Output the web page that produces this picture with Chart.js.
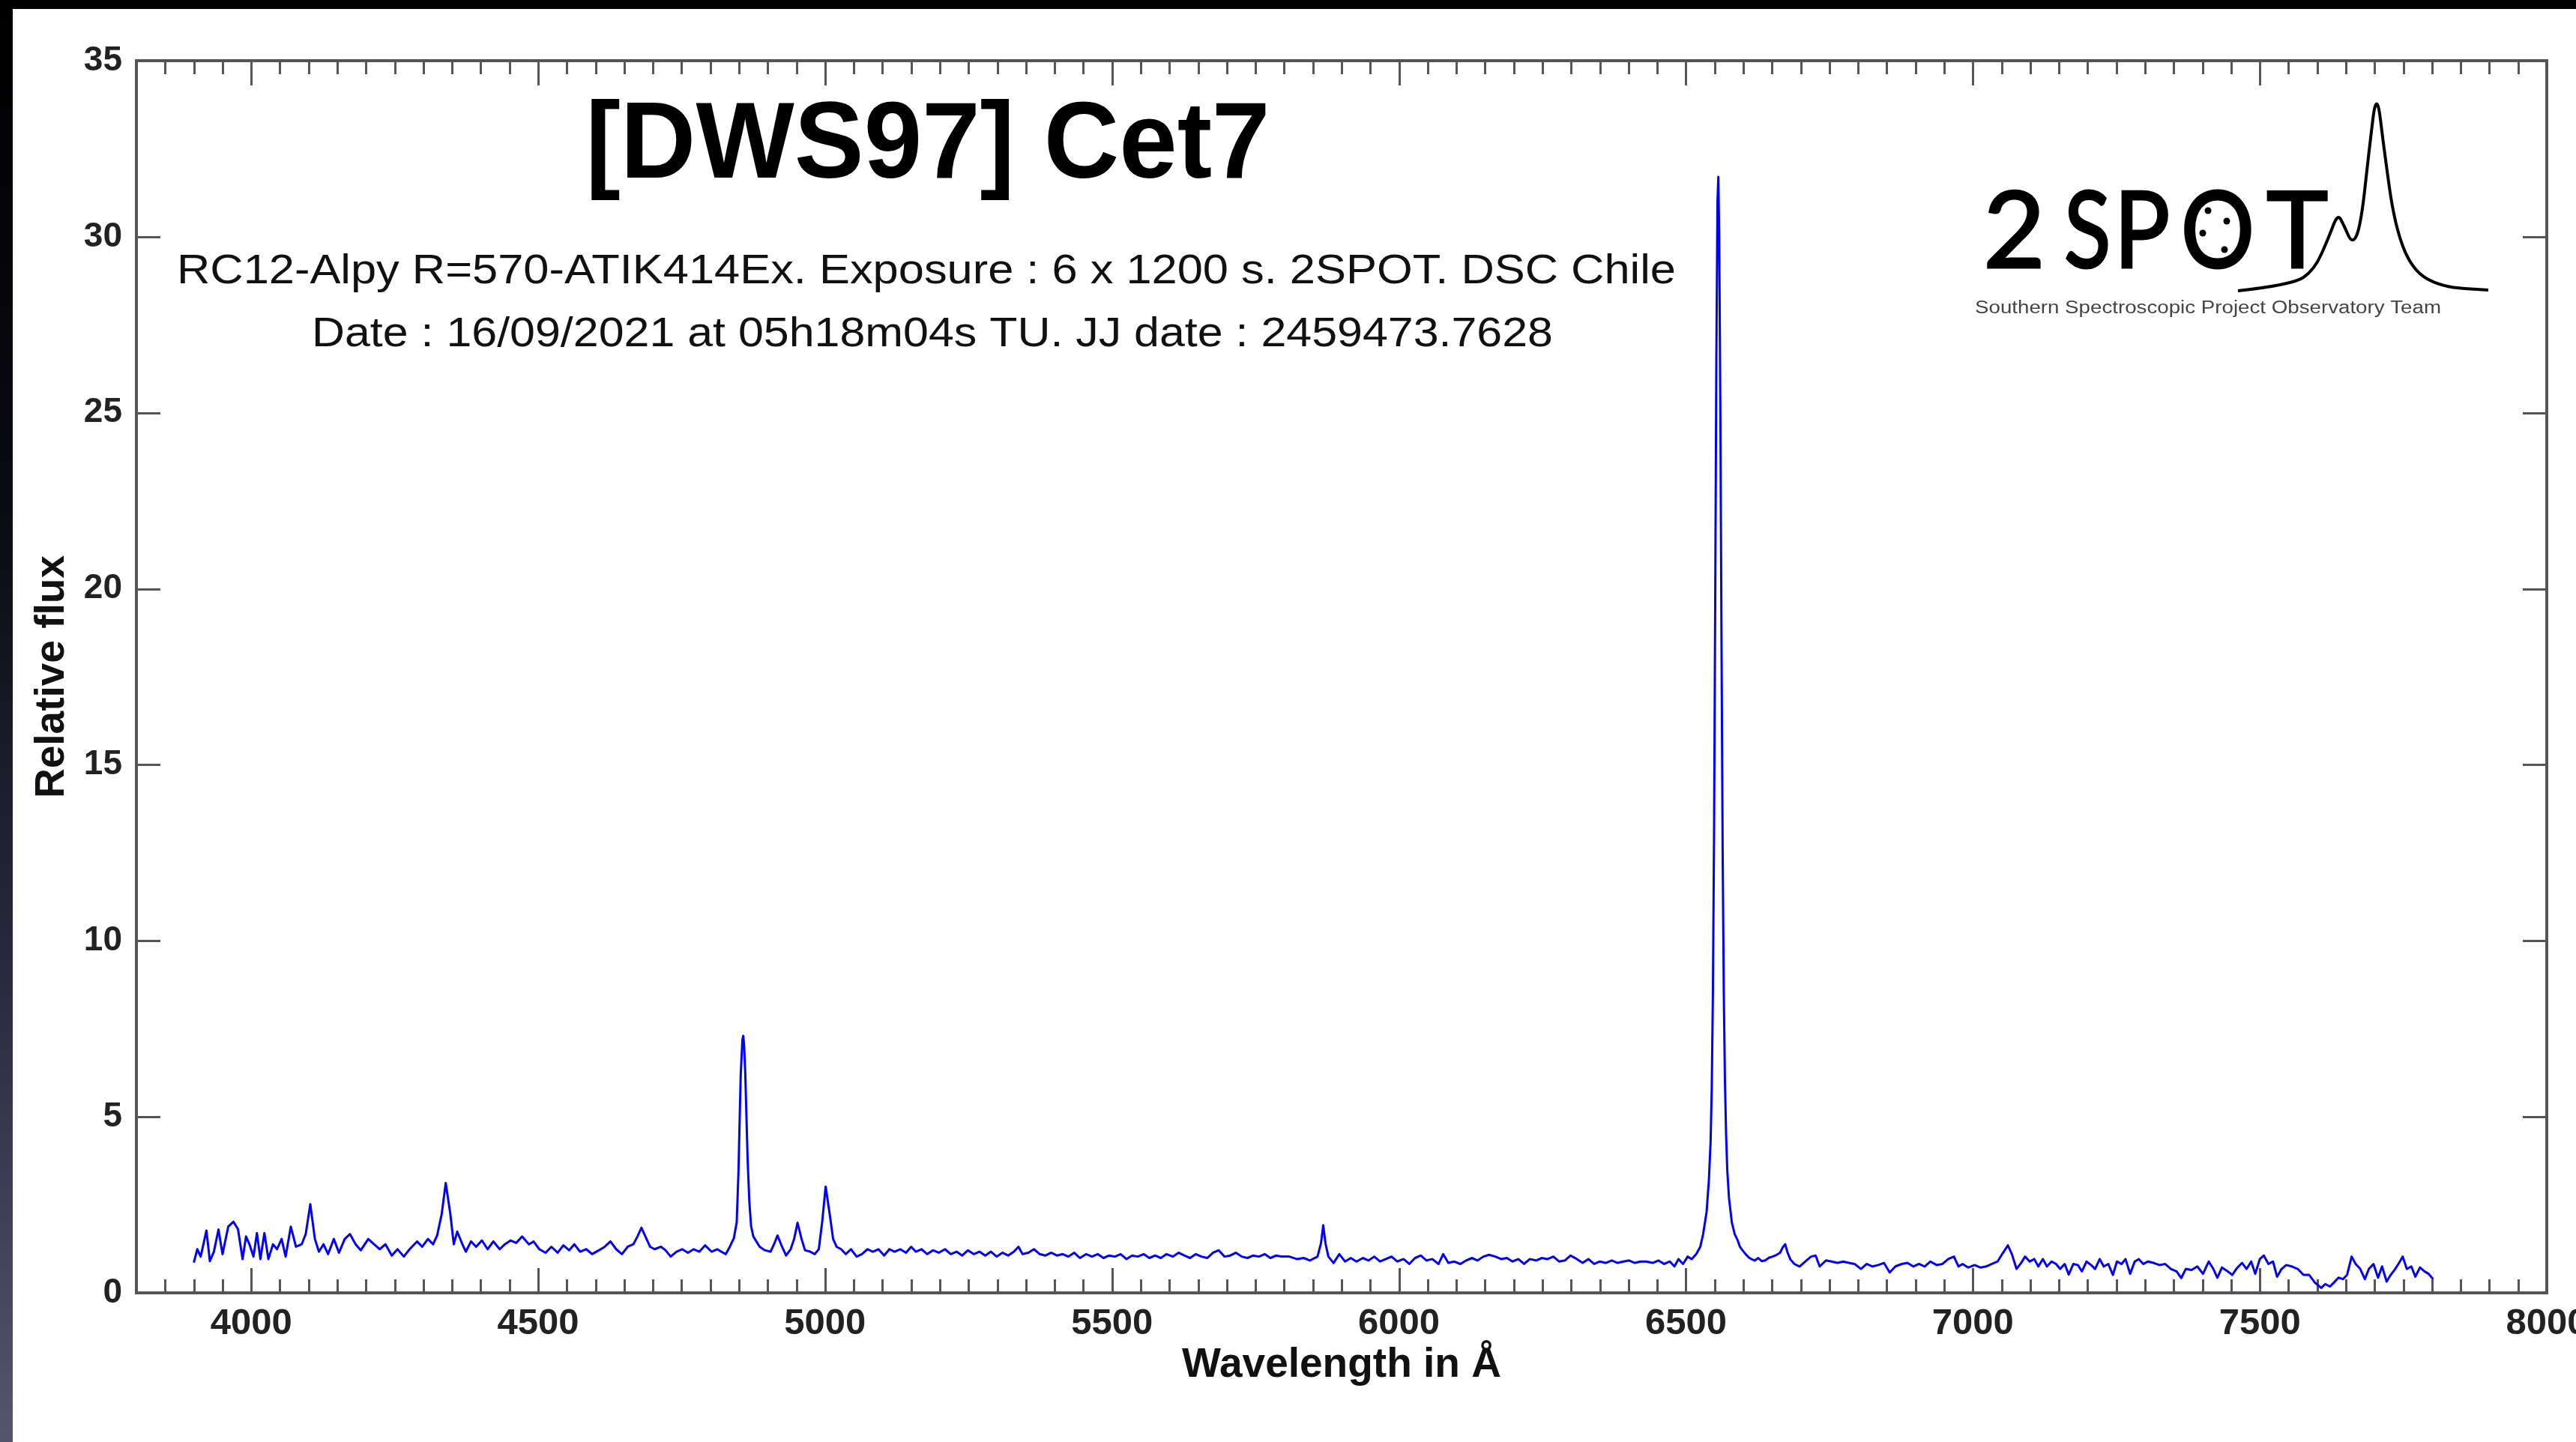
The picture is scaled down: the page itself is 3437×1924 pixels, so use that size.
<!DOCTYPE html>
<html>
<head>
<meta charset="utf-8">
<title>[DWS97] Cet7</title>
<script src="https://cdn.jsdelivr.net/npm/chart.js@4.4.1/dist/chart.umd.min.js"></script>
<style>
  html, body { margin: 0; padding: 0; }
  body {
    width: 3437px; height: 1924px; overflow: hidden; position: relative;
    background: linear-gradient(180deg, #000 0%, #0a0a12 35%, #2c2c42 70%, #55556f 100%);
  }
  #panel { position: absolute; left: 17px; top: 12px; width: 3420px; height: 1912px; background: #fff; }
  canvas { display: block; }
</style>
</head>
<body>
<div id="panel"><canvas id="spectrum" width="3420" height="1912"></canvas></div>
<script>
// spectrum, in pieces so the two columns stay lined up

// blue end, 3900 - 4834 A
const wlBlue = [
  3900,3906,3912,3922,3928,3935,3943,3950,3960,3969,
  3977,3985,3991,3997,4004,4010,4016,4023,4030,4038,
  4045,4053,4060,4069,4078,4088,4095,4103,4111,4118,
  4126,4134,4144,4153,4163,4172,4182,4191,4204,4214,
  4224,4234,4245,4255,4266,4276,4289,4298,4308,4317,
  4324,4332,4339,4347,4353,4359,4367,4374,4383,4392,
  4402,4412,4422,4433,4442,4452,4462,4472,4484,4492,
  4502,4513,4523,4534,4544,4554,4563,4573,4584,4594,
  4606,4616,4626,4636,4646,4656,4666,4673,4680,4687,
  4695,4703,4714,4722,4731,4741,4751,4761,4771,4781,
  4791,4802,4812,4819,4827,4834
];
const fluxBlue = [
  0.86,1.24,1.03,1.77,0.90,1.17,1.80,1.10,1.88,2.02,
  1.81,0.96,1.60,1.38,1.03,1.70,0.96,1.70,0.96,1.38,
  1.24,1.53,1.03,1.88,1.31,1.38,1.67,2.52,1.53,1.17,
  1.38,1.10,1.53,1.14,1.53,1.67,1.38,1.21,1.53,1.38,
  1.24,1.38,1.06,1.24,1.03,1.24,1.46,1.31,1.53,1.38,
  1.63,2.24,3.12,2.24,1.38,1.74,1.42,1.17,1.46,1.31,
  1.49,1.24,1.46,1.24,1.38,1.49,1.42,1.60,1.38,1.46,
  1.24,1.14,1.31,1.14,1.35,1.21,1.38,1.17,1.24,1.10,
  1.21,1.31,1.46,1.24,1.10,1.31,1.38,1.60,1.85,1.60,
  1.31,1.24,1.31,1.21,1.03,1.17,1.24,1.14,1.24,1.17,
  1.35,1.17,1.24,1.17,1.10,1.31
];

// H-beta and [OIII]
const wlHbeta = [
  4841,4846,4849,4851,4853,4856,4857.5,4859,4861,4863,
  4865,4868,4871,4875,4886,4895,4905,4912,4917,4925,
  4932,4940,4946,4952,4959,4965,4974,4982,4989,4995,
  5001,5008,5014,5020,5028,5036
];
const fluxHbeta = [
  1.55,2.0,3.4,4.8,6.2,7.2,7.3,7.0,6.2,5.0,
  3.8,2.6,1.9,1.6,1.31,1.21,1.17,1.42,1.63,1.31,
  1.06,1.24,1.53,1.99,1.53,1.21,1.17,1.10,1.24,2.02,
  3.02,2.24,1.53,1.31,1.24,1.10
];

// green continuum
const wlGreen = [
  5045,5055,5064,5074,5083,5093,5103,5112,5121,5131,
  5141,5150,5158,5168,5178,5188,5198,5209,5219,5229,
  5239,5249,5259,5269,5279,5289,5299,5309,5319,5329,
  5337,5344,5354,5364,5374,5384,5394,5404,5414,5424,
  5434,5444,5455,5465,5475,5485,5495,5505,5515,5525,
  5535,5545,5555,5565,5575,5585,5595,5606,5616,5626,
  5636,5646,5656,5666,5676,5686,5696,5706,5716,5726,
  5736,5746,5756,5766,5776,5786,5796,5809,5822,5834
];
const fluxGreen = [
  1.24,1.03,1.10,1.24,1.17,1.24,1.06,1.24,1.17,1.24,
  1.14,1.31,1.17,1.24,1.10,1.21,1.14,1.24,1.10,1.17,
  1.06,1.21,1.10,1.17,1.06,1.17,1.03,1.14,1.06,1.17,
  1.31,1.10,1.14,1.24,1.10,1.06,1.14,1.06,1.10,1.03,
  1.14,0.99,1.10,1.03,1.10,0.99,1.06,1.03,1.10,0.96,
  1.06,1.03,1.10,0.99,1.06,0.99,1.10,1.03,1.14,1.06,
  0.99,1.10,1.03,0.99,1.14,1.21,1.03,1.06,1.14,1.03,
  0.99,1.06,1.03,1.10,0.99,1.06,1.03,1.03,0.96,0.99
];

// HeI 5876 up to the foot of H-alpha
const wlYellow = [
  5845,5858,5864,5868,5872,5877,5886,5896,5906,5916,
  5926,5937,5947,5957,5967,5977,5987,5997,6008,6018,
  6028,6038,6048,6058,6069,6077,6086,6096,6107,6117,
  6127,6137,6147,6157,6168,6178,6188,6198,6208,6218,
  6228,6239,6249,6259,6269,6279,6289,6299,6310,6320,
  6330,6340,6350,6360,6371,6381,6391,6401,6411,6421,
  6431,6442,6452,6462,6472,6480,6487,6495,6503,6510,
  6518
];
const fluxYellow = [
  0.92,1.03,1.40,1.92,1.40,1.03,0.85,1.10,0.89,0.99,
  0.89,0.99,0.92,1.03,0.89,0.96,1.03,0.89,0.96,0.82,
  0.99,1.06,0.92,0.96,0.82,1.10,0.85,0.89,0.82,0.92,
  0.99,0.92,1.03,1.08,1.03,0.96,0.99,0.89,0.96,0.82,
  0.96,0.92,0.99,0.96,1.03,0.89,0.92,1.06,0.96,0.85,
  0.96,0.82,0.89,0.85,0.92,0.85,0.89,0.92,0.85,0.89,
  0.89,0.85,0.92,0.82,0.89,0.75,0.96,0.82,1.03,0.96,
  1.10
];

// H-alpha
const wlHalpha = [
  6525,6530,6536,6540,6543,6545,6547,6549,6551,6553,
  6555,6556.5,6558,6560,6562,6564,6566,6568,6570,6572,
  6575,6580,6585,6590,6594,6599,6604,6610
];
const fluxHalpha = [
  1.31,1.67,2.3,3.2,4.3,5.8,8.5,13.0,19.5,26.5,
  31.0,31.7,30.0,25.0,18.5,12.5,8.5,6.0,4.5,3.5,
  2.7,2.0,1.67,1.50,1.31,1.20,1.10,1.00
];

// red end
const wlRed = [
  6614,6620,6626,6632,6638,6645,6651,6658,6664,6669,
  6673,6677,6682,6689,6698,6708,6718,6726,6733,6744,
  6754,6764,6774,6784,6794,6805,6815,6825,6835,6845,
  6855,6865,6876,6886,6896,6906,6916,6926,6937,6947,
  6957,6967,6975,6982,6992,7003,7013,7023,7033,7043,
  7051,7061,7068,7076,7084,7091,7099,7107,7114,7122,
  7129,7137,7145,7152,7160,7167,7175,7183,7190,7198,
  7206,7213,7221,7228,7236,7244,7251,7259,7266,7274,
  7282,7289,7297,7305,7315,7325,7335,7345,7355,7363,
  7371,7381,7391,7401,7411,7419,7426,7434,7444,7452,
  7459,7469,7477,7485,7492,7500,7507,7515,7523,7530,
  7538,7546,7556,7566,7576,7586,7596,7607,7614,7622,
  7629,7637,7645,7652,7660,7667,7675,7683,7690,7698,
  7706,7713,7721,7728,7736,7744,7749,7756,7764,7771,
  7779,7787,7794,7802
];
const fluxRed = [
  0.96,0.92,0.99,0.90,0.92,1.00,1.03,1.08,1.14,1.30,
  1.38,1.15,0.95,0.82,0.75,0.89,1.03,1.06,0.75,0.92,
  0.89,0.85,0.89,0.85,0.82,0.68,0.82,0.75,0.79,0.85,
  0.58,0.75,0.82,0.85,0.75,0.82,0.75,0.89,0.79,0.82,
  0.96,1.03,0.75,0.82,0.72,0.79,0.72,0.75,0.82,0.89,
  1.10,1.35,1.10,0.68,0.85,1.03,0.89,0.96,0.75,0.96,
  0.75,0.89,0.82,0.68,0.82,0.52,0.82,0.79,0.61,0.89,
  0.79,0.68,0.96,0.75,0.82,0.51,0.89,0.82,0.96,0.54,
  0.89,0.96,0.82,0.89,0.85,0.79,0.82,0.68,0.61,0.42,
  0.68,0.65,0.75,0.54,0.89,0.68,0.43,0.72,0.61,0.51,
  0.68,0.85,0.68,0.89,0.54,0.96,1.06,0.82,0.89,0.46,
  0.68,0.79,0.75,0.68,0.51,0.51,0.29,0.14,0.25,0.18,
  0.29,0.43,0.39,0.51,1.03,0.82,0.68,0.39,0.68,0.82,
  0.43,0.75,0.32,0.51,0.68,0.89,1.03,0.68,0.75,0.46,
  0.72,0.61,0.54,0.39
];

const xTickLabels = [4000, 4500, 5000, 5500, 6000, 6500, 7000, 7500, 8000];
const yTickLabels = [0, 5, 10, 15, 20, 25, 30, 35];

const titleText = '[DWS97] Cet7';
const infoLine1 = 'RC12-Alpy R=570-ATIK414Ex. Exposure : 6 x 1200 s. 2SPOT. DSC Chile';
const infoLine2 = 'Date : 16/09/2021 at 05h18m04s TU. JJ date : 2459473.7628';
const logoWord = ['2', 'S', 'P', 'O', 'T'];
const logoTagline = 'Southern Spectroscopic Project Observatory Team';

const wavelength = [].concat(wlBlue, wlHbeta, wlGreen, wlYellow, wlHalpha, wlRed);
const flux = [].concat(fluxBlue, fluxHbeta, fluxGreen, fluxYellow, fluxHalpha, fluxRed);
const points = wavelength.map((w, i) => ({ x: w, y: flux[i] }));

const SANS = '"Liberation Sans", Arial, Helvetica, sans-serif';
const AXIS_GREY = '#555';

// text squeezed/stretched to a given width, centred on cx
function fitText(ctx, text, cx, baseline, width, font, color) {
  ctx.save();
  ctx.font = font;
  ctx.fillStyle = color;
  ctx.textAlign = 'center';
  ctx.textBaseline = 'alphabetic';
  const w = ctx.measureText(text).width;
  ctx.translate(cx, baseline);
  ctx.scale(width / w, 1);
  ctx.fillText(text, 0, 0);
  ctx.restore();
}

// one logo letter fitted between left and right ink edges, a bit heavier
function drawGlyph(ctx, ch, left, right, baseline) {
  const m = ctx.measureText(ch);
  const ink = m.actualBoundingBoxLeft + m.actualBoundingBoxRight;
  ctx.save();
  ctx.translate(left, baseline);
  ctx.scale((right - left) / ink, 1);
  ctx.fillText(ch, m.actualBoundingBoxLeft, 0);
  ctx.strokeText(ch, m.actualBoundingBoxLeft, 0);
  ctx.restore();
}

// frame with inward ticks on all four sides
const framePlugin = {
  id: 'frame',
  beforeDatasetsDraw(chart) {
    const { ctx, chartArea: a, scales: { x, y } } = chart;
    ctx.save();
    ctx.strokeStyle = AXIS_GREY;
    ctx.lineWidth = 3;
    ctx.beginPath();
    for (let w = 3850; w < 8000; w += 50) {
      const px = Math.round(x.getPixelForValue(w)) + 0.5;
      const len = w % 500 === 0 ? 33 : 18;
      ctx.moveTo(px, a.bottom); ctx.lineTo(px, a.bottom - len);
      ctx.moveTo(px, a.top); ctx.lineTo(px, a.top + len);
    }
    yTickLabels.forEach(v => {
      if (v === 0 || v === 35) return;
      const py = Math.round(y.getPixelForValue(v)) + 0.5;
      ctx.moveTo(a.left, py); ctx.lineTo(a.left + 32, py);
      ctx.moveTo(a.right, py); ctx.lineTo(a.right - 32, py);
    });
    ctx.stroke();
    ctx.lineWidth = 4;
    ctx.strokeRect(a.left, a.top, a.right - a.left, a.bottom - a.top);
    ctx.restore();
  }
};

// title, observation notes and the 2SPOT logo
const headerPlugin = {
  id: 'header',
  afterDraw(chart) {
    const ctx = chart.ctx;
    fitText(ctx, titleText, 1221, 225, 913, 'bold 145px ' + SANS, '#000');
    fitText(ctx, infoLine1, 1219, 366, 2000, '56px ' + SANS, '#111');
    fitText(ctx, infoLine2, 1227, 450, 1656, '56px ' + SANS, '#111');

    // logo letters
    ctx.save();
    ctx.fillStyle = '#000';
    ctx.strokeStyle = '#000';
    ctx.lineWidth = 3;
    ctx.font = '141px Lato, "Open Sans", sans-serif';
    ctx.textAlign = 'left';
    ctx.textBaseline = 'alphabetic';
    const edges = [[2635, 2705], [2740, 2795], [2814, 2875], [2898, 2986], [3009, 3088]];
    logoWord.forEach((ch, i) => drawGlyph(ctx, ch, edges[i][0], edges[i][1], 345));
    // dots in the O
    [[-13, -26], [12, -12], [-20, 4], [9, 26]].forEach(d => {
      ctx.beginPath();
      ctx.arc(2942 + d[0], 295 + d[1], 4.5, 0, Math.PI * 2);
      ctx.fill();
    });
    // little emission profile
    const curve = [[2969, 376], [3042, 368], [3071, 348], [3090, 305], [3102, 273], [3110, 288],
                   [3122, 315], [3133, 288], [3144, 188], [3154, 106], [3164, 188], [3178, 288],
                   [3201, 348], [3240, 371], [3303, 375]];
    ctx.lineWidth = 4;
    ctx.lineJoin = 'round';
    ctx.beginPath();
    ctx.moveTo(curve[0][0], curve[0][1]);
    for (let i = 1; i < curve.length - 1; i++) {
      const mx = (curve[i][0] + curve[i + 1][0]) / 2, my = (curve[i][1] + curve[i + 1][1]) / 2;
      ctx.quadraticCurveTo(curve[i][0], curve[i][1], mx, my);
    }
    ctx.lineTo(curve[curve.length - 1][0], curve[curve.length - 1][1]);
    ctx.stroke();
    ctx.restore();
    fitText(ctx, logoTagline, 2929, 406, 622, '23px ' + SANS, '#444');
  }
};

new Chart(document.getElementById('spectrum'), {
  type: 'line',
  data: {
    datasets: [{
      data: points,
      borderColor: '#0000ff',
      borderWidth: 3,
      borderJoinStyle: 'round',
      pointRadius: 0,
      fill: false,
      tension: 0
    }]
  },
  options: {
    responsive: false,
    animation: false,
    devicePixelRatio: 1,
    layout: { padding: { left: 0, top: 69, right: 39, bottom: 0 } },
    plugins: { legend: { display: false }, tooltip: { enabled: false } },
    scales: {
      x: {
        type: 'linear',
        min: 3800,
        max: 8000,
        grid: { display: false, drawTicks: false },
        border: { display: false },
        afterBuildTicks: s => { s.ticks = xTickLabels.map(v => ({ value: v })); },
        ticks: {
          autoSkip: false,
          maxRotation: 0,
          padding: 12,
          color: '#222',
          font: { family: SANS, size: 49, weight: 'bold' },
          callback: v => String(v)
        },
        title: {
          display: true,
          text: 'Wavelength in Å',
          color: '#111',
          font: { family: SANS, size: 55, weight: 'bold' },
          padding: { top: 0, bottom: 69 }
        },
        afterFit: s => { s.height = 199; s.paddingLeft = 0; s.paddingRight = 0; }
      },
      y: {
        min: 0,
        max: 35,
        grid: { display: false, drawTicks: false },
        border: { display: false },
        afterBuildTicks: s => { s.ticks = yTickLabels.map(v => ({ value: v })); },
        ticks: {
          padding: 19,
          color: '#222',
          font: { family: SANS, size: 46, weight: 'bold' },
          callback: v => String(v)
        },
        title: {
          display: true,
          text: 'Relative flux',
          color: '#111',
          font: { family: SANS, size: 55, weight: 'bold' },
          padding: { top: 20, bottom: 0 }
        },
        afterFit: s => { s.width = 165; s.paddingTop = 0; s.paddingBottom = 0; }
      }
    }
  },
  plugins: [framePlugin, headerPlugin]
});
</script>
</body>
</html>
